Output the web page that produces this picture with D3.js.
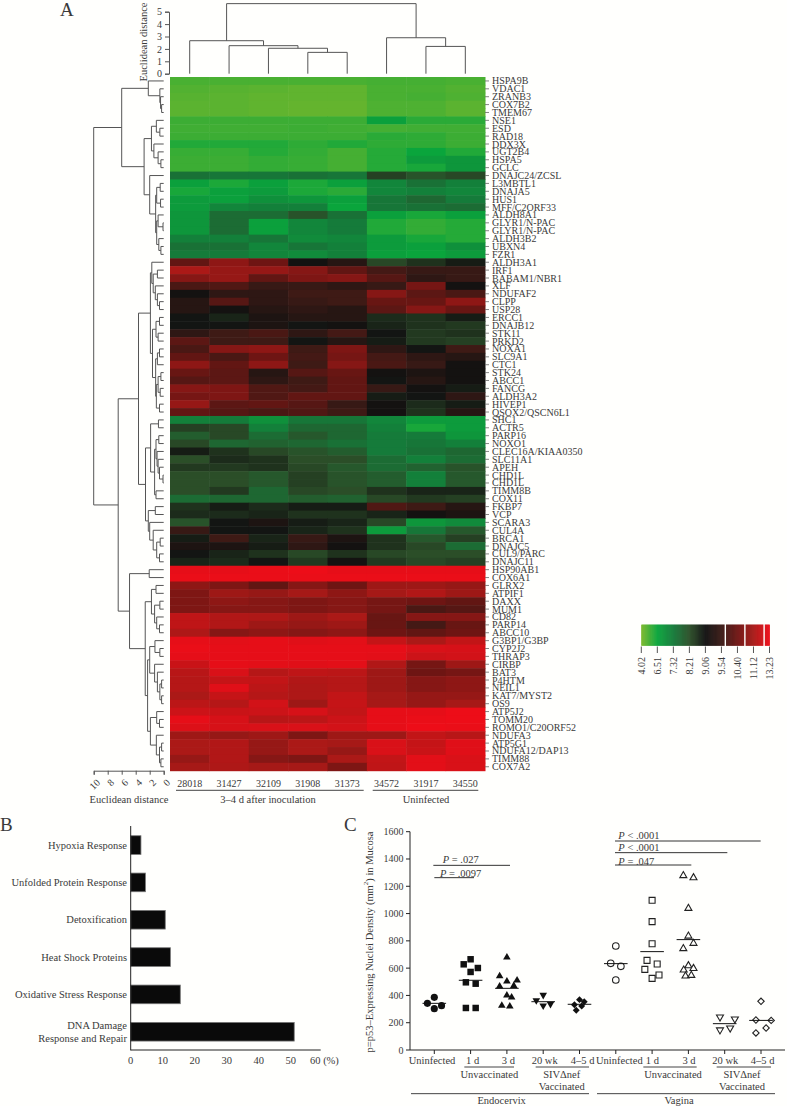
<!DOCTYPE html>
<html><head><meta charset="utf-8">
<script src="https://cdn.jsdelivr.net/npm/d3@7/dist/d3.min.js"></script>
<style>html,body{margin:0;padding:0;background:#fffffd}svg{display:block}text{font-family:"Liberation Serif",serif;fill:#3a3a3a}</style>
</head><body><svg id="c" width="787" height="1106"></svg>
<script>
const rowLabels=["HSPA9B","VDAC1","ZRANB3","COX7B2","TMEM67","NSE1","ESD","RAD18","DDX3X","UGT2B4","HSPA5","GCLC","DNAJC24/ZCSL","L3MBTL1","DNAJA5","HUS1","MFF/C2ORF33","ALDH8A1","GLYR1/N-PAC","GLYR1/N-PAC","ALDH3B2","UBXN4","FZR1","ALDH3A1","IRF1","BABAM1/NBR1","XLF","NDUFAF2","CLPP","USP28","ERCC1","DNAJB12","STK11","PRKD2","NOXA1","SLC9A1","CTC1","STK24","ABCC1","FANCG","ALDH3A2","HIVEP1","QSOX2/QSCN6L1","SHC1","ACTR5","PARP16","NOXO1","CLEC16A/KIAA0350","SLC11A1","APEH","CHD1L","CHD1L","TIMM8B","COX11","FKBP7","VCP","SCARA3","CUL4A","BRCA1","DNAJC5","CUL9/PARC","DNAJC11","HSP90AB1","COX6A1","GLRX2","ATPIF1","DAXX","MUM1","CD82","PARP14","ABCC10","G3BP1/G3BP","CYP2J2","THRAP3","CIRBP","BAT3","P4HTM","NEIL1","KAT7/MYST2","OS9","ATP5J2","TOMM20","ROMO1/C20ORF52","NDUFA3","ATP5G1","NDUFA12/DAP13","TIMM88","COX7A2"];
const colLabels=["28018","31427","32109","31908","31373","34572","31917","34550"];
const heatValues=[
[5.1,5.1,5.1,5.1,5.1,5.2,5.2,5.1],[4.9,4.8,4.7,4.6,4.6,5.1,5.1,4.9],[4.8,4.7,4.6,4.6,4.6,5.1,5.2,5.0],[4.7,4.7,4.6,4.5,4.5,5.0,5.0,4.7],[4.7,4.7,4.6,4.5,4.5,5.0,5.0,4.7],
[5.4,5.4,5.4,5.4,5.4,6.6,5.8,5.8],[5.3,5.3,5.3,5.4,5.3,5.2,5.3,5.3],[5.4,5.4,5.4,5.4,5.4,5.8,5.7,5.4],[6.0,6.0,6.0,5.7,6.0,5.7,5.7,5.4],[5.5,5.5,5.9,5.6,5.2,5.9,6.5,6.0],
[5.4,5.4,5.6,5.5,5.2,5.9,6.7,6.8],[5.4,5.4,5.6,5.5,5.2,5.9,6.2,6.8],[7.5,7.4,7.4,7.5,7.4,8.4,8.1,8.3],[6.6,6.1,6.6,6.1,6.6,7.1,7.5,7.2],[6.2,6.6,6.7,6.1,5.8,7.1,7.2,7.1],
[6.7,6.6,6.9,6.8,6.6,7.4,7.7,7.3],[6.7,7.1,7.2,7.2,6.5,7.4,7.5,7.6],[6.8,7.6,7.6,8.1,7.5,6.6,6.2,6.6],[6.8,7.6,6.6,7.1,7.3,6.0,5.6,5.9],[6.8,7.6,6.6,7.1,7.3,6.0,5.6,5.9],
[7.2,7.2,7.4,7.0,7.1,6.7,6.2,5.9],[7.5,7.5,7.1,7.4,7.2,6.7,6.6,6.9],[7.3,7.3,7.1,7.0,7.2,6.6,6.5,6.7],
[10.2,10.8,10.4,9.1,9.3,8.3,8.6,8.9],[11.2,10.9,10.9,10.7,10.2,9.7,9.5,9.5],[10.7,10.9,10.2,10.6,10.7,10.0,9.4,9.5],[9.8,9.9,9.5,9.5,9.4,9.5,10.5,9.1],[9.1,9.4,9.4,9.6,9.6,10.7,10.1,9.8],
[9.3,10.0,9.4,9.5,9.6,10.3,10.3,10.8],[9.3,9.1,9.3,9.4,9.3,10.1,10.7,10.3],[9.0,8.8,9.2,9.3,9.3,8.7,8.6,8.9],[9.0,9.0,9.2,9.0,9.1,8.8,8.6,8.5],[9.4,9.6,9.8,9.4,9.7,9.0,8.5,8.6],
[10.1,9.6,9.6,9.0,9.3,8.9,8.5,8.4],[9.8,10.7,10.8,9.6,10.6,9.4,9.0,9.6],[10.2,9.8,10.4,9.7,10.5,9.7,9.4,9.3],[10.8,10.2,10.8,9.6,10.7,9.8,9.5,9.1],[10.3,10.1,9.3,10.0,10.3,9.1,9.2,9.1],
[10.0,10.1,9.4,9.6,10.2,9.0,9.3,9.1],[10.7,10.6,9.9,9.7,10.2,9.5,9.1,8.9],[10.5,10.6,9.9,10.2,10.2,8.9,9.0,9.4],[10.9,10.1,10.2,10.0,9.5,9.1,8.7,8.9],[10.2,10.0,9.8,9.9,9.6,9.1,8.6,9.3],
[7.2,7.3,6.9,7.4,7.4,7.1,6.7,6.7],[8.4,8.3,7.2,7.7,7.7,7.2,6.2,6.7],[7.9,8.3,7.6,8.0,7.7,7.3,7.3,6.8],[8.3,7.7,7.8,7.7,7.5,7.3,7.4,7.2],[8.9,8.6,8.3,8.1,7.9,7.3,7.5,7.7],
[8.2,8.7,8.6,8.2,8.2,7.6,7.2,7.6],[8.5,8.5,8.6,8.3,8.0,7.6,7.8,8.1],[8.2,8.2,8.0,8.4,8.1,7.9,7.2,8.0],[8.2,8.2,8.0,8.4,8.1,7.9,7.2,8.0],[8.2,8.5,7.7,8.3,8.2,8.6,8.8,8.8],
[7.6,7.7,7.7,7.9,7.8,8.3,8.5,8.4],[8.6,8.9,8.7,8.9,8.9,9.9,9.6,9.3],[8.7,8.7,8.8,8.6,8.6,8.8,9.1,9.2],[8.1,9.0,9.2,8.9,8.8,8.3,6.8,7.0],[9.5,9.0,9.0,8.8,8.6,6.7,7.4,8.0],
[8.9,9.6,8.8,9.5,9.2,8.6,8.0,8.4],[9.2,9.2,8.9,9.4,9.1,8.6,8.3,7.6],[9.0,8.8,8.6,8.3,8.6,8.3,8.2,8.2],[8.8,8.7,9.0,8.5,9.1,8.5,8.3,8.4],
[13.0,13.0,13.1,13.2,13.0,13.0,13.0,13.0],[13.1,13.1,13.1,13.1,13.1,13.1,13.1,13.1],[10.8,10.6,10.2,10.7,10.4,11.0,11.0,10.9],[10.6,11.0,10.9,11.1,10.8,11.1,11.4,11.0],[10.6,10.8,10.7,10.6,10.7,10.5,10.4,10.2],
[10.6,10.7,10.7,10.6,10.7,10.5,9.8,10.0],[11.8,11.4,11.3,11.0,11.2,10.3,10.7,10.7],[11.8,11.4,11.0,10.9,11.0,10.3,9.7,10.3],[11.3,10.7,10.8,10.7,10.8,10.4,10.2,10.4],[13.0,12.9,13.0,12.8,12.9,12.0,11.2,11.9],
[13.1,13.0,13.0,13.0,13.0,13.0,12.6,12.5],[13.0,13.0,13.0,13.0,13.0,12.9,12.2,12.4],[12.1,13.0,12.9,12.8,12.9,11.4,10.5,11.0],[11.6,12.6,11.5,11.8,11.7,11.0,10.4,10.5],[11.5,12.0,11.9,11.4,11.5,11.0,10.7,10.8],
[11.5,12.8,11.7,11.3,11.5,11.0,10.7,10.8],[11.2,12.0,11.5,11.3,11.9,11.1,10.9,10.9],[11.7,11.5,12.4,11.0,12.0,11.1,10.9,11.1],[12.2,12.1,12.2,12.5,11.9,13.0,13.0,13.2],[13.0,12.5,11.6,11.7,12.2,13.0,13.1,13.2],
[12.7,12.5,12.6,12.6,12.4,13.0,13.2,13.1],[11.0,10.9,11.0,10.6,11.0,11.0,11.9,11.6],[11.2,11.4,10.9,11.2,11.1,12.6,12.0,12.8],[11.2,11.4,10.9,11.2,10.9,12.6,12.1,12.8],[10.9,11.4,10.7,10.6,11.2,11.9,12.9,12.6],[11.1,11.3,11.1,11.1,10.6,11.8,12.9,12.6]];
const legendTicks=[4.02,6.51,7.32,8.21,9.06,9.54,10.40,11.12,13.23];
const legendColors=["#7ab82b","#0aa53c","#157a3a","#2b4e28","#111111","#3a1a15","#6e1513","#a81917","#ee0d18"];
// dendrograms: [merge height, left, right]; 0 is the next leaf in order
const colTree=[5.65,[2.66,0,[2.26,0,[2.05,0,[1.72,0,0]]]],[2.9,0,[2.2,0,0]]];
const greenT=[6.0,[2.2,0,[0.55,0,[0.45,0,[0.3,0,0]]]],[2.8,[1.75,[1.05,0,[0.55,0,0]],[1.4,0,[0.8,0,[0.4,0,0]]]],[2.0,0,[1.15,[1.0,[0.5,0,0],[0.45,0,0]],[1.0,[0.8,0,[0.1,0,0]],[0.7,0,[0.4,0,0]]]]]]];
const darkRedT=[1.9,[1.7,0,[1.5,[0.9,0,0],[1.2,0,[0.9,0,[0.6,0,0]]]]],[1.6,[1.1,[0.6,0,0],[0.8,0,0]],[1.15,[0.9,[0.6,0,0],0],[1.05,[0.8,[0.4,0,0],[0.5,0,0]],[0.6,0,0]]]]];
const darkGreenT=[2.6,[1.87,[0.75,0,0],[1.3,[1.1,[0.7,0,0],[0.95,0,[0.8,0,[0.6,0,[0.1,0,0]]]]],[1.1,0,0]]],[2.2,[1.2,0,0],[2.0,0,[1.5,0,[1.0,[0.5,0,0],[0.6,0,0]]]]]];
const redUpperT=[1.75,[1.1,0,0],[1.3,[0.55,0,0],[1.0,0,[0.6,0,0]]]];
const redLowerT=[2.3,[2.0,[1.25,0,[0.55,0,0]],[1.3,0,[0.9,0,[0.55,[0.3,0,0],[0.3,0,0]]]]],[1.9,[1.0,0,[0.6,0,0]],[1.05,0,[0.6,[0.3,0,0],[0.4,0,0]]]]];
const rowTree=[10,greenT,[6.5,[3.6,darkRedT,darkGreenT],[4.88,[2.07,0,0],[2.64,redUpperT,redLowerT]]]];
const pathways=["Hypoxia Response","Unfolded Protein Response","Detoxification","Heat Shock Proteins","Oxidative Stress Response","DNA Damage|Response and Repair"];
const pathwayPct=[3.2,4.6,10.8,12.4,15.5,51.1];
const pctTicks=[0,10,20,30,40,50,60];
const groupNames=["Uninfected","1 d","3 d","20 wk","4–5 d","Uninfected","1 d","3 d","20 wk","4–5 d"];
const groupShapes=["circle","square","triangle","down","diamond","circle","square","triangle","down","diamond"];
const groupMeans=[342,511,452,354,335,633,721,809,193,217];
const groupValues=[[342,386,325,303],[665,628,601,572,496,486,308,308],[679,542,511,503,467,471,400,386,325,320],[403,364,337,325],[369,354,332,322,291],[762,635,613,513],[1097,941,779,657,630,591,550,525],[1278,1263,1038,835,743,782,618,586,598,542,547],[242,227,161,147],[357,220,217,161,125]];
const groupJitter=[[-.19,0,.2,0],[0,-.19,.2,0,-.13,.14,-.13,.14],[0,-.2,.28,0,-.2,.19,0,.13,-.14,.08],[0,-.19,.2,0],[0,.13,-.14,.06,-.09],[0,-.14,.14,0],[0,0,0,-.14,.14,-.2,.19,0],[-.14,.14,0,0,-.14,.14,0,-.13,.14,-.08,.08],[-.13,.28,.15,-.13],[0,-.14,.28,.14,-.14]];
const densityTicks=[0,200,400,600,800,1000,1200,1400,1600];

const svg=d3.select("#c");
const ink="#3a3a3a";
const txt=(g,x,y,s,size,anchor,extra)=>{const t=g.append("text").attr("x",x).attr("y",y).attr("font-size",size).attr("text-anchor",anchor||"start").attr("dominant-baseline","central").text(s);if(extra)extra(t);return t;};
const line=(g,x1,y1,x2,y2,c,w)=>g.append("line").attr("x1",x1).attr("y1",y1).attr("x2",x2).attr("y2",y2).attr("stroke",c||ink).attr("stroke-width",w||1);

/* ---- A ---- */
const A=svg.append("g");
txt(A,60,9,"A",19);
const xH=d3.scaleBand().domain(d3.range(colLabels.length)).range([170,485]);
const yH=d3.scaleBand().domain(d3.range(rowLabels.length)).range([77,770.7]);
const pos=d3.scaleLinear().domain(legendTicks).range(d3.range(legendTicks.length)).clamp(true);
const colAt=d3.scaleLinear().domain(d3.range(legendColors.length)).range(legendColors).interpolate(d3.interpolateRgb);
const heat=v=>colAt(pos(v));
const cells=A.append("g").style("filter","blur(0.5px)");
heatValues.forEach((r,i)=>cells.append("g").selectAll("rect").data(r).join("rect")
  .attr("x",(d,j)=>xH(j)).attr("y",yH(i)).attr("width",xH.bandwidth()+.5).attr("height",yH.bandwidth()+.5).attr("fill",d=>heat(d)));
A.append("g").selectAll("text").data(rowLabels).join("text").attr("x",492).attr("y",(d,i)=>yH(i)+yH.bandwidth()/2).attr("font-size",10).attr("dominant-baseline","central").text(d=>d);
A.append("g").selectAll("line").data(rowLabels).join("line").attr("x1",485).attr("x2",489).attr("y1",(d,i)=>yH(i)+yH.bandwidth()/2).attr("y2",(d,i)=>yH(i)+yH.bandwidth()/2).attr("stroke","#666").attr("stroke-width",.8);

function drawTree(tree,leafPos,hPos,horizontalLeaves,stroke){
  let next=0; const p=d3.path();
  const seg=(a,b,c,d)=>{ if(horizontalLeaves){p.moveTo(c,a);p.lineTo(d,b);} else {p.moveTo(a,c);p.lineTo(b,d);} };
  const walk=n=>{
    if(!Array.isArray(n)) return {m:leafPos(next++),h:0};
    const l=walk(n[1]), r=walk(n[2]), H=n[0];
    seg(l.m,l.m,hPos(l.h),hPos(H)); seg(r.m,r.m,hPos(r.h),hPos(H)); seg(l.m,r.m,hPos(H),hPos(H));
    return {m:(l.m+r.m)/2,h:H};
  };
  walk(tree);
  A.append("path").attr("d",p.toString()).attr("fill","none").attr("stroke",stroke||"#555").attr("stroke-width",1);
}
const dTop=d3.scaleLinear().domain([0,5]).range([73.7,11.7]);
const dLeft=d3.scaleLinear().domain([0,10]).range([163.7,93.7]);
drawTree(colTree,i=>xH(i)+xH.bandwidth()/2,dTop,false);
drawTree(rowTree,i=>yH(i)+yH.bandwidth()/2,dLeft,true);
const axT=A.append("g").attr("transform","translate(169,0)").call(d3.axisLeft(dTop).ticks(5).tickSize(4).tickFormat(d3.format("d")));
axT.selectAll("text").attr("font-size",10).attr("font-family","Liberation Serif").attr("fill",ink);
axT.selectAll("path,line").attr("stroke","#555");
txt(A,0,0,"Euclidean distance",10.5,"middle",t=>t.attr("transform","translate(143,42) rotate(-90)"));
const axL=A.append("g").attr("transform","translate(0,770.7)").call(d3.axisBottom(dLeft).tickValues([0,2,4,6,8,10]).tickSize(4));
axL.selectAll("path,line").attr("stroke","#555");
axL.selectAll("text").attr("font-size",10).attr("font-family","Liberation Serif").attr("fill",ink).attr("text-anchor","end").attr("dy",0).attr("y",0).attr("dominant-baseline","central").attr("transform","translate(4,10) rotate(-45)");
txt(A,129,799,"Euclidean distance",10.5,"middle");
A.append("g").selectAll("text").data(colLabels).join("text").attr("x",(d,i)=>xH(i)+xH.bandwidth()/2).attr("y",783).attr("text-anchor","middle").attr("dominant-baseline","central").attr("font-size",10).text(d=>d);
line(A,176,790.3,363.7,790.3,"#444");line(A,372.7,790.3,478.3,790.3,"#444");
txt(A,268,799,"3–4 d after inoculation",10.5,"middle");
txt(A,426,799,"Uninfected",10.5,"middle");
// colour key
const keyX=d3.scaleLinear().domain([0,legendTicks.length-1]).range([641.3,769.5]);
const key=A.append("g");
key.selectAll("rect").data(d3.range(0,8,.02)).join("rect").attr("x",d=>keyX(d)).attr("y",624.7).attr("width",.7).attr("height",21).attr("fill",d=>colAt(d));
[5.2,6.42,7.62].forEach(d=>key.append("rect").attr("x",keyX(d)).attr("y",624).attr("width",1.4).attr("height",22).attr("fill","#fffffd"));
key.selectAll("line").data(legendTicks).join("line").attr("x1",(d,i)=>keyX(i)).attr("x2",(d,i)=>keyX(i)).attr("y1",646.5).attr("y2",653).attr("stroke","#555").attr("stroke-width",1);
key.selectAll("text").data(legendTicks).join("text").attr("font-size",10).attr("text-anchor","end").attr("dominant-baseline","central")
  .attr("transform",(d,i)=>`translate(${keyX(i)},657) rotate(-90)`).text(d=>d.toFixed(2));

/* ---- B ---- */
const B=svg.append("g");
txt(B,0,824,"B",19);
const xB=d3.scaleLinear().domain([0,60]).range([130.7,322.7]);
const yB=d3.scaleBand().domain(d3.range(pathways.length)).range([826.4,1050.4]).paddingInner(.5).paddingOuter(.25);
B.selectAll("rect").data(pathwayPct).join("rect").attr("x",xB(0)).attr("y",(d,i)=>yB(i)).attr("width",d=>xB(d)-xB(0)).attr("height",yB.bandwidth()).attr("fill","#0a0a0a").attr("stroke","#777").attr("stroke-width",.8);
pathways.forEach((n,i)=>{const parts=n.split("|"),cy=yB(i)+yB.bandwidth()/2;parts.forEach((s,k)=>txt(B,127,cy+(k-(parts.length-1)/2)*13,s,10.5,"end"));});
line(B,130.7,826,130.7,1050.4,"#222");line(B,130.7,1050,320.7,1050,"#222");
pctTicks.slice(0,-1).forEach(v=>txt(B,xB(v),1060,v,10.5,"middle"));
txt(B,310,1060,pctTicks[6]+" (%)",10.5,"start");

/* ---- C ---- */
const C=svg.append("g");
txt(C,344,824,"C",19);
const xC=d3.scaleLinear().domain([0,9]).range([434.3,761]);
const yC=d3.scaleLinear().domain([0,1600]).range([1050,831.7]);
line(C,410,831.7,410,1050,"#222");line(C,410,1050,785,1050,"#222");
densityTicks.forEach(v=>{line(C,406,yC(v),410,yC(v),"#222");txt(C,403.5,yC(v),v,10,"end");});
groupNames.forEach((n,i)=>line(C,xC(i),1050,xC(i),1054,"#222"));
const yt=C.append("text").attr("font-size",10.5).attr("text-anchor","middle").attr("dominant-baseline","central").attr("transform","translate(369,942) rotate(-90)");
yt.append("tspan").text("p=p53–Expressing Nuclei Density (mm");
yt.append("tspan").attr("font-size",7).attr("dy",-3).text("2");
yt.append("tspan").attr("dy",3).text(") in Mucosa");
const symbols={circle:d3.symbolCircle,square:d3.symbolSquare,triangle:d3.symbolTriangle,down:d3.symbolTriangle,diamond:d3.symbolSquare};
const sizes={circle:40,square:42,triangle:25,down:25,diamond:24};
const rots={circle:0,square:0,triangle:0,down:180,diamond:45};
groupValues.forEach((vals,g)=>{
  const kind=groupShapes[g],open=g>=5;
  C.append("g").selectAll("path").data(vals).join("path")
   .attr("d",d3.symbol(symbols[kind],open?sizes[kind]*.85:sizes[kind]))
   .attr("transform",(d,i)=>`translate(${xC(g+groupJitter[g][i])},${yC(d)}) rotate(${rots[kind]})`)
   .attr("fill",open?"#fffffd":"#111").attr("stroke",open?"#222":"none").attr("stroke-width",1.1);
  line(C,xC(g)-11.8,yC(groupMeans[g]),xC(g)+11.8,yC(groupMeans[g]),"#111",1);
});
const xc=c=>340+c/3,yc=c=>810+c/3;
const ptext=(cx,cy,op,val,anch)=>{const t=C.append("text").attr("x",xc(cx)).attr("y",yc(cy)).attr("font-size",10.5).attr("text-anchor",anch).attr("dominant-baseline","central");t.append("tspan").attr("font-style","italic").text("P");t.append("tspan").text(` ${op} ${val}`);};
[[280,510,166],[283,402,203],[825,1262,93],[825,1162,128],[825,1054,165]].forEach(a=>line(C,xc(a[0]),yc(a[2]),xc(a[1]),yc(a[2]),"#333",1));
ptext(362,146,"=",".027","middle");ptext(362,190,"=",".0097","middle");
ptext(835,76,"<",".0001","start");ptext(835,112,"<",".0001","start");ptext(835,152,"=",".047","start");
[276,398,505,614,728,838,937,1047,1156,1268].forEach((c,i)=>txt(C,xc(c),yc(752),groupNames[i],10.5,"middle"));
[[373,522,771],[587,747,771],[910,1070,771],[1130,1293,771],[213,747,851],[771,1305,851]].forEach(a=>line(C,xc(a[0]),yc(a[2]),xc(a[1]),yc(a[2]),"#444",1));
[[448,793,"Unvaccinated"],[665,793,"SIVΔnef"],[665,830,"Vaccinated"],[999,793,"Unvaccinated"],[1206,793,"SIVΔnef"],[1206,830,"Vaccinated"],[485,871,"Endocervix"],[1017,871,"Vagina"]].forEach(a=>txt(C,xc(a[0]),yc(a[1]),a[2],10.5,"middle"));
</script></body></html>
